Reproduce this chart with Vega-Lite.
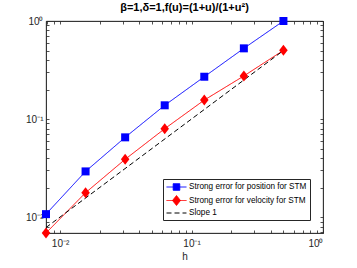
{
  "$schema": "https://vega.github.io/schema/vega-lite/v6.json",
  "width": 277,
  "height": 212,
  "autosize": "none",
  "padding": {"left": 46, "top": 21, "right": 34, "bottom": 35},
  "title": {"text": "β=1,δ=1,f(u)=(1+u)/(1+u²)", "fontSize": 11, "fontWeight": "bold", "font": "Liberation Sans", "color": "#000000", "offset": 3},
  "config": {
    "view": {"stroke": "#262626", "strokeWidth": 0.8},
    "axis": {"labelFont": "Liberation Sans", "labelFontSize": 10, "labelColor": "#262626", "tickColor": "#262626", "domainColor": "#262626", "domainWidth": 0.8, "tickWidth": 0.8, "grid": false, "labelOverlap": false, "titleFont": "Liberation Sans", "titleFontWeight": "normal", "titleColor": "#262626"}
  },
  "data": {"values": [
    {"h": 0.5, "err": 1.0, "series": "Strong error for position for STM"},
    {"h": 0.25, "err": 0.526, "series": "Strong error for position for STM"},
    {"h": 0.125, "err": 0.270, "series": "Strong error for position for STM"},
    {"h": 0.0625, "err": 0.138, "series": "Strong error for position for STM"},
    {"h": 0.03125, "err": 0.065, "series": "Strong error for position for STM"},
    {"h": 0.015625, "err": 0.0292, "series": "Strong error for position for STM"},
    {"h": 0.0078125, "err": 0.0107, "series": "Strong error for position for STM"},
    {"h": 0.5, "err": 0.502, "series": "Strong error for velocity for STM"},
    {"h": 0.25, "err": 0.275, "series": "Strong error for velocity for STM"},
    {"h": 0.125, "err": 0.156, "series": "Strong error for velocity for STM"},
    {"h": 0.0625, "err": 0.0796, "series": "Strong error for velocity for STM"},
    {"h": 0.03125, "err": 0.0388, "series": "Strong error for velocity for STM"},
    {"h": 0.015625, "err": 0.0177, "series": "Strong error for velocity for STM"},
    {"h": 0.0078125, "err": 0.00687, "series": "Strong error for velocity for STM"},
    {"h": 0.5, "err": 0.5, "series": "Slope 1"},
    {"h": 0.0078125, "err": 0.0078125, "series": "Slope 1"}
  ]},
  "layer": [
    {
      "mark": {"type": "line", "strokeWidth": 1},
      "encoding": {
        "x": {"field": "h", "type": "quantitative", "scale": {"type": "log", "domain": [0.0078125, 1], "nice": false},
          "axis": {"orient": "bottom", "title": "h", "titleFontSize": 10, "titlePadding": 3, "values": [0.008, 0.009, 0.01, 0.02, 0.03, 0.04, 0.05, 0.06, 0.07, 0.08, 0.09, 0.1, 0.2, 0.3, 0.4, 0.5, 0.6, 0.7, 0.8, 0.9, 1], "tickSize": -3, "labelPadding": 8,
            "labelExpr": "datum.value == 0.01 ? '10⁻²' : datum.value == 0.1 ? '10⁻¹' : datum.value == 1 ? '10⁰' : ''"}},
        "y": {"field": "err", "type": "quantitative", "scale": {"type": "log", "domain": [0.00687, 1], "nice": false},
          "axis": {"orient": "left", "title": null, "values": [0.007, 0.008, 0.009, 0.01, 0.02, 0.03, 0.04, 0.05, 0.06, 0.07, 0.08, 0.09, 0.1, 0.2, 0.3, 0.4, 0.5, 0.6, 0.7, 0.8, 0.9, 1], "tickSize": -3, "labelPadding": 6,
            "labelExpr": "datum.value == 0.01 ? '10⁻²' : datum.value == 0.1 ? '10⁻¹' : datum.value == 1 ? '10⁰' : ''"}},
        "color": {"field": "series", "type": "nominal",
          "scale": {"domain": ["Strong error for position for STM", "Strong error for velocity for STM", "Slope 1"], "range": ["#0000ff", "#ff0000", "#000000"]},
          "legend": {"title": null, "orient": "none", "legendX": 117, "legendY": 158, "padding": 3, "rowPadding": 0.5, "symbolSize": 81, "labelOffset": 13, "labelFont": "Liberation Sans", "labelFontSize": 8.2, "labelColor": "#000000", "strokeColor": "#262626", "fillColor": "#ffffff", "symbolStrokeWidth": 1,
            "encode": {"symbols": {"update": {
              "shape": {"signal": "datum.value === 'Slope 1' ? 'M-1,0H3.44' : datum.value === 'Strong error for position for STM' ? 'M-1,0H3.44M0.49,-0.73H1.95V0.73H0.49Z' : 'M-1,0H3.44M1.22,-1.1L2.1,0L1.22,1.1L0.34,0Z'"},
              "fill": {"signal": "datum.value === 'Slope 1' ? 'transparent' : datum.value === 'Strong error for position for STM' ? '#0000ff' : '#ff0000'"},
              "stroke": {"signal": "datum.value === 'Slope 1' ? '#000000' : datum.value === 'Strong error for position for STM' ? '#0000ff' : '#ff0000'"},
              "strokeDash": {"signal": "datum.value === 'Slope 1' ? [4, 3] : [1, 0]"},
              "opacity": {"value": 1}
            }}}}},
        "strokeDash": {"field": "series", "type": "nominal",
          "scale": {"domain": ["Strong error for position for STM", "Strong error for velocity for STM", "Slope 1"], "range": [[1, 0], [1, 0], [5, 3]]},
          "legend": null}
      }
    },
    {
      "transform": [{"filter": "datum.series !== 'Slope 1'"}],
      "mark": {"type": "point", "filled": true, "opacity": 1, "size": 100},
      "encoding": {
        "x": {"field": "h", "type": "quantitative",
          "axis": {"orient": "top", "title": null, "values": [0.008, 0.009, 0.01, 0.02, 0.03, 0.04, 0.05, 0.06, 0.07, 0.08, 0.09, 0.1, 0.2, 0.3, 0.4, 0.5, 0.6, 0.7, 0.8, 0.9, 1], "tickSize": -3, "labels": false}},
        "y": {"field": "err", "type": "quantitative",
          "axis": {"orient": "right", "title": null, "values": [0.007, 0.008, 0.009, 0.01, 0.02, 0.03, 0.04, 0.05, 0.06, 0.07, 0.08, 0.09, 0.1, 0.2, 0.3, 0.4, 0.5, 0.6, 0.7, 0.8, 0.9, 1], "tickSize": -3, "labels": false}},
        "color": {"field": "series", "type": "nominal", "legend": null},
        "shape": {"field": "series", "type": "nominal",
          "scale": {"domain": ["Strong error for position for STM", "Strong error for velocity for STM"], "range": ["M-0.8,-0.8H0.8V0.8H-0.8Z", "M0,-1.1L0.85,0L0,1.1L-0.85,0Z"]},
          "legend": null}
      }
    }
  ],
  "resolve": {"axis": {"x": "independent", "y": "independent"}}
}
